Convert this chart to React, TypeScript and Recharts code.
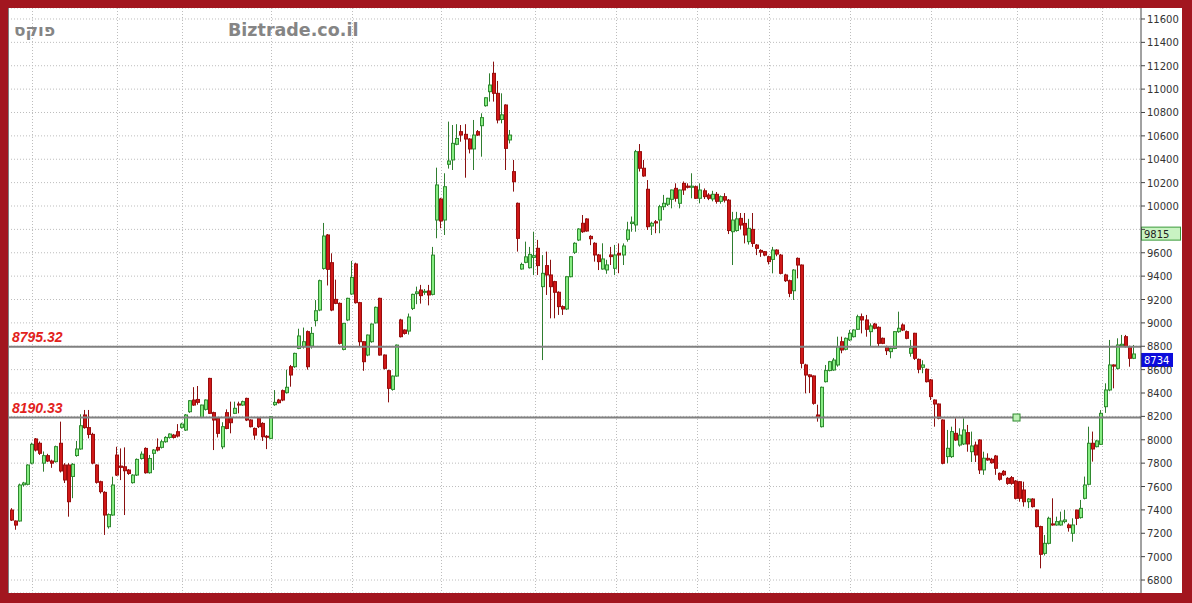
import React from "react";
import { ComposedChart, Bar, XAxis, YAxis, CartesianGrid, ReferenceLine, ReferenceDot } from "recharts";

// daily candles (oldest first)
const opens = [
  7399, 7305, 7305, 7615, 7619, 7800, 8007, 7970, 7800, 7864,
  7818, 7813, 7970, 7784, 7784, 7686, 7865, 7921, 8212, 8104,
  8046, 7784, 7641, 7550, 7256, 7356, 7869, 7775, 7769, 7741,
  7633, 7698, 7840, 7926, 7718, 7884, 7935, 7935, 7983, 8020,
  8040, 8069, 8106, 8083, 8240, 8340, 8345, 8191, 8260, 8525,
  8232, 8183, 7940, 8232, 8183, 8226, 8306, 8297, 8354, 8169,
  8097, 8183, 8140, 8030, 8012, 8300, 8340, 8420, 8403, 8625,
  8625, 8782, 8796, 8925, 8802, 9019, 9110, 9466, 9752, 9515,
  9201, 9167, 8773, 9025, 9247, 9504, 9173, 8839, 8725, 8839,
  9000, 9210, 8725, 8591, 8431, 8545, 9025, 8939, 8930, 9124,
  9250, 9281, 9262, 9273, 9244, 9880, 10060, 9880, 10357, 10394,
  10528, 10636, 10613, 10573, 10488, 10636, 10687, 10858, 10978, 11135,
  10964, 10740, 10864, 10565, 10294, 10023, 9461, 9518, 9472, 9560,
  9638, 9310, 9490, 9410, 9353, 9262, 9139, 9119, 9395, 9604,
  9709, 9852, 9889, 9740, 9681, 9581, 9461, 9453, 9581, 9467,
  9595, 9581, 9715, 9850, 9838, 10465, 10323, 10143, 9829, 9865,
  9880, 9994, 10015, 10057, 10151, 10023, 10194, 10170, 10160, 10165,
  10066, 10130, 10094, 10060, 10100, 10040, 10080, 10050, 9780, 9790,
  9894, 9851, 9695, 9800, 9666, 9620, 9609, 9566, 9543, 9623,
  9580, 9410, 9361, 9275, 9552, 9495, 8640, 8555, 8546, 8212,
  8112, 8497, 8592, 8597, 8640, 8839, 8774, 8854, 8882, 8945,
  9053, 9025, 8925, 8990, 8962, 8868, 8797, 8754, 8782, 8925,
  8982, 8925, 8740, 8911, 8688, 8620, 8603, 8512, 8340, 8306,
  8169, 7856, 7856, 8055, 7955, 7964, 8061, 7898, 7955, 7998,
  7742, 7841, 7833, 7861, 7713, 7730, 7670, 7676, 7647, 7641,
  7570, 7470, 7493, 7399, 7257, 7028, 7114, 7280, 7271, 7271,
  7300, 7271, 7200, 7399, 7334, 7499, 7619, 7970, 7941, 7961,
  8283, 8426, 8640, 8611, 8805, 8882, 8797, 8697,
];
const highs = [
  7415, 7310, 7625, 7640, 7790, 7975, 8015, 7985, 7900, 7880,
  7830, 7950, 8155, 7800, 7800, 7800, 7990, 8218, 8255, 8255,
  8060, 7790, 7650, 7560, 7370, 7684, 7940, 7926, 7935, 7750,
  7705, 7840, 7900, 7935, 7870, 7920, 8012, 8000, 8030, 8055,
  8050, 8134, 8145, 8220, 8340, 8450, 8460, 8300, 8345, 8530,
  8240, 8190, 8150, 8260, 8326, 8326, 8326, 8335, 8360, 8175,
  8105, 8190, 8150, 8040, 8200, 8425, 8350, 8430, 8600, 8640,
  8745, 8950, 8960, 8935, 8965, 9195, 9370, 9855, 9760, 9595,
  9370, 9175, 9000, 9215, 9530, 9515, 9180, 8845, 8900, 8995,
  9140, 9215, 8730, 8600, 8550, 8815, 9035, 8945, 9080, 9250,
  9310, 9325, 9290, 9325, 9650, 10328, 10070, 10280, 10722, 10693,
  10700, 10693, 10700, 10580, 10736, 10650, 10793, 10930, 11135, 11235,
  11070, 10964, 10870, 10650, 10394, 10030, 9515, 9695, 9650, 9780,
  9710, 9580, 9610, 9540, 9360, 9270, 9150, 9400, 9570, 9690,
  9810, 9923, 9895, 9750, 9690, 9590, 9681, 9540, 9650, 9667,
  9680, 9680, 9865, 9910, 10480, 10530, 10394, 10222, 9865, 9880,
  10010, 10095, 10070, 10140, 10194, 10140, 10210, 10194, 10280, 10175,
  10194, 10150, 10110, 10130, 10120, 10090, 10110, 10060, 9950, 9950,
  9940, 9940, 9890, 9940, 9675, 9630, 9615, 9575, 9650, 9630,
  9590, 9420, 9370, 9460, 9560, 9500, 8650, 8560, 8550, 8300,
  8455, 8640, 8675, 8700, 8882, 8882, 8875, 8940, 8945, 9070,
  9080, 9068, 8996, 9000, 8970, 8875, 8805, 8790, 8930, 9096,
  8996, 8935, 8854, 8915, 8695, 8680, 8610, 8520, 8345, 8310,
  8175, 8084, 8112, 8184, 8098, 8184, 8127, 8070, 7984, 8005,
  7898, 7884, 7845, 7870, 7720, 7740, 7680, 7690, 7655, 7645,
  7641, 7500, 7500, 7405, 7265, 7185, 7342, 7499, 7342, 7385,
  7400, 7285, 7328, 7400, 7485, 7685, 8112, 8070, 8000, 8254,
  8483, 8854, 8645, 8868, 8897, 8897, 8805, 8811,
];
const lows = [
  7305, 7230, 7300, 7600, 7610, 7790, 7900, 7870, 7727, 7810,
  7760, 7805, 7720, 7630, 7342, 7500, 7855, 7915, 8095, 8012,
  7790, 7625, 7540, 7186, 7240, 7350, 7690, 7655, 7356, 7700,
  7625, 7690, 7830, 7710, 7710, 7741, 7900, 7925, 7975, 8010,
  8010, 8020, 8095, 8075, 8230, 8290, 8300, 8185, 8250, 8220,
  7912, 8020, 7920, 8090, 8055, 8220, 8226, 8290, 8160, 8105,
  8000, 8100, 7990, 7920, 8005, 8290, 8310, 8330, 8395, 8454,
  8615, 8775, 8780, 8600, 8780, 8970, 9100, 9455, 9320, 9100,
  9160, 8815, 8765, 9015, 9240, 9165, 8796, 8590, 8715, 8830,
  8995, 8720, 8600, 8320, 8420, 8540, 8875, 8900, 8900, 9110,
  9160, 9165, 9240, 9150, 9235, 9724, 9810, 9752, 10320, 10308,
  10520, 10550, 10242, 10450, 10308, 10600, 10422, 10850, 10893, 10893,
  10707, 10707, 10308, 10535, 10123, 9610, 9455, 9510, 9465, 9410,
  9410, 8682, 9239, 9039, 9039, 9068, 9068, 9110, 9390, 9590,
  9700, 9770, 9780, 9665, 9524, 9452, 9455, 9420, 9495, 9410,
  9425, 9495, 9695, 9780, 9780, 10295, 10250, 9795, 9752, 9767,
  9767, 9965, 10000, 9980, 10037, 9980, 10095, 10150, 10066, 10060,
  10023, 10060, 10050, 10040, 10020, 10020, 10030, 9760, 9495, 9780,
  9800, 9680, 9670, 9650, 9580, 9565, 9570, 9500, 9424, 9570,
  9415, 9350, 9220, 9196, 9381, 8611, 8397, 8400, 8300, 8155,
  8105, 8490, 8585, 8590, 8625, 8740, 8765, 8845, 8875, 8940,
  8910, 8882, 8797, 8945, 8797, 8818, 8725, 8697, 8775, 8915,
  8930, 8860, 8711, 8683, 8569, 8569, 8490, 8340, 8112, 8175,
  7790, 7799, 7845, 7990, 7941, 7955, 7898, 7810, 7810, 7707,
  7700, 7820, 7795, 7700, 7650, 7690, 7615, 7615, 7490, 7470,
  7428, 7415, 7420, 7250, 6900, 7010, 7105, 7265, 7265, 7265,
  7285, 7214, 7128, 7270, 7325, 7490, 7610, 7813, 7935, 7955,
  8230, 8415, 8440, 8600, 8800, 8790, 8625, 8690,
];
const closes = [
  7313, 7270, 7613, 7630, 7784, 7961, 7912, 7884, 7864, 7818,
  7800, 7941, 7733, 7656, 7470, 7790, 7921, 8120, 8104, 8046,
  7800, 7636, 7556, 7356, 7360, 7613, 7698, 7764, 7735, 7712,
  7698, 7832, 7877, 7718, 7840, 7912, 7912, 7983, 8020, 8049,
  8020, 8032, 8134, 8212, 8334, 8297, 8320, 8297, 8340, 8226,
  8169, 8055, 8112, 8097, 8146, 8269, 8297, 8326, 8169, 8112,
  8040, 8112, 8026, 8026, 8197, 8320, 8317, 8340, 8449, 8554,
  8739, 8888, 8839, 8625, 8910, 9104, 9361, 9743, 9458, 9110,
  9167, 8825, 8996, 9210, 9389, 9173, 8839, 8668, 8896, 8990,
  9133, 8725, 8611, 8440, 8545, 8810, 8882, 8910, 9050, 9244,
  9265, 9233, 9270, 9239, 9580, 10180, 9872, 10165, 10385, 10536,
  10578, 10607, 10573, 10488, 10607, 10607, 10756, 10926, 11035, 10964,
  10736, 10780, 10493, 10607, 10208, 9723, 9500, 9565, 9586, 9575,
  9490, 9424, 9410, 9310, 9262, 9139, 9119, 9395, 9566, 9681,
  9803, 9780, 9786, 9720, 9581, 9524, 9547, 9496, 9567, 9581,
  9581, 9658, 9795, 9862, 10465, 10323, 10257, 9823, 9852, 9855,
  9994, 10023, 10066, 10137, 10066, 10137, 10137, 10160, 10170, 10066,
  10137, 10080, 10066, 10100, 10040, 10080, 10050, 9790, 9880, 9890,
  9837, 9752, 9809, 9680, 9638, 9605, 9580, 9524, 9623, 9589,
  9424, 9361, 9253, 9452, 9495, 8654, 8554, 8540, 8312, 8190,
  8449, 8592, 8668, 8682, 8797, 8768, 8868, 8911, 8939, 9053,
  9025, 8945, 8974, 8954, 8825, 8825, 8762, 8782, 8925, 8954,
  8939, 8868, 8783, 8697, 8603, 8640, 8497, 8369, 8306, 8184,
  7799, 7927, 8070, 7998, 8040, 8084, 7964, 7947, 7870, 7742,
  7842, 7827, 7804, 7756, 7662, 7700, 7627, 7627, 7499, 7499,
  7470, 7493, 7428, 7257, 7020, 7114, 7328, 7271, 7300, 7305,
  7314, 7248, 7271, 7328, 7413, 7613, 7970, 7921, 7990, 8226,
  8426, 8640, 8630, 8811, 8817, 8797, 8697, 8734,
];

const priceTicks = [
  6800, 7000, 7200, 7400, 7600, 7800, 8000, 8200, 8400, 8600, 8800, 9000, 9200,
  9400, 9600, 9800, 10000, 10200, 10400, 10600, 10800, 11000, 11200, 11400, 11600,
];
// first trading day of each month (candle index)
const monthTicks = [5, 26, 42, 64, 84, 106, 129, 149, 169, 187, 207, 227, 248, 269];
const levels = [8795.32, 8190.33];
const avgValue = 9815;
const markerIndex = 248;

const PAD_L = 2;
const PAD_R = 5;

const data = opens.map((o, i) => ({ idx: i, o, h: highs[i], l: lows[i], c: closes[i] }));
const lastClose = closes[closes.length - 1];

const Candle = (props: any) => {
  const { x, y, width, height, payload } = props;
  const { o, h, l, c } = payload;
  const up = c >= o;
  const top = height < 0 ? y + height : y;
  const hh = Math.abs(height);
  const k = h === l ? 0 : hh / (h - l);
  const yO = top + (h - o) * k;
  const yC = top + (h - c) * k;
  const bodyTop = Math.min(yO, yC);
  const bodyH = Math.max(Math.abs(yO - yC), 1);
  const left = Math.round(x + width / 2) - 2;
  const wick = up ? "#2f7d2f" : "#8a1010";
  return (
    <g>
      <line x1={left + 1.5} x2={left + 1.5} y1={top} y2={top + hh} stroke={wick} strokeWidth={1} />
      <rect
        x={left + 0.5}
        y={bodyTop}
        width={3}
        height={bodyH}
        fill={up ? "#86ec82" : "#d01818"}
        stroke={up ? "#2f8a2f" : "#9a0d0d"}
        strokeWidth={1}
      />
    </g>
  );
};

// price label on the right axis; the one hidden under the average badge is skipped
const PriceTick = (p: any) => {
  const v = p.payload.value;
  if (Math.abs(v - avgValue) < 100) return null;
  return (
    <text x={p.x} y={p.y} dy={4} fontSize={10} fill="#333" fontFamily="DejaVu Sans, sans-serif">
      {v}
    </text>
  );
};

const levelLabel = (text: string) => (p: any) => (
  <text
    x={p.viewBox.x + 4}
    y={p.viewBox.y - 5}
    fill="#e2221c"
    fontSize={14}
    fontWeight="bold"
    fontStyle="italic"
    fontFamily="Liberation Sans, Arial, sans-serif"
  >
    {text}
  </text>
);

const badge = (text: string, bg: string, border: string, color: string, w: number) => (p: any) => {
  const bx = p.viewBox.x + p.viewBox.width;
  const by = p.viewBox.y - 1;
  return (
    <g>
      <rect x={bx + 0.5} y={by + 0.5} width={w} height={13} fill={bg} stroke={border} />
      <text x={bx + 3} y={by + 11} fontSize={10} fill={color} fontFamily="DejaVu Sans, sans-serif">
        {text}
      </text>
    </g>
  );
};

// vertical month lines, placed in the centre of each month's first candle band
const monthLines = (args: any) => {
  const off = args && args.offset;
  if (!off) return [];
  const band = (off.width - PAD_L - PAD_R) / data.length;
  return monthTicks.map((t) => Math.round(off.left + PAD_L + (t + 0.5) * band) + 0.5);
};

export default function App() {
  return (
    <div style={{ position: "absolute", left: 0, top: 0, width: 1192, height: 603, background: "#a2161f" }}>
      <div style={{ position: "absolute", left: 8, top: 8, width: 1174, height: 585, background: "#fff" }}>
        <ComposedChart width={1174} height={585} data={data} margin={{ top: 0, right: 0, bottom: 0, left: 0 }}>
          <CartesianGrid stroke="#bdbdbd" strokeDasharray="1 2" verticalCoordinatesGenerator={monthLines} />
          <XAxis
            dataKey="idx"
            type="category"
            ticks={monthTicks}
            interval={0}
            tick={false}
            axisLine={false}
            tickLine={{ stroke: "#555" }}
            tickSize={4}
            mirror
            height={0}
            padding={{ left: PAD_L, right: PAD_R }}
          />
          <YAxis
            orientation="right"
            width={41}
            domain={[6689, 11694]}
            allowDataOverflow
            ticks={priceTicks}
            interval={0}
            tickSize={4}
            axisLine={{ stroke: "#444" }}
            tickLine={{ stroke: "#444" }}
            tick={PriceTick}
          />
          {levels.map((v) => (
            <ReferenceLine key={v} y={v} stroke="#808080" strokeWidth={2} label={levelLabel(v.toFixed(2))} />
          ))}
          <ReferenceLine y={avgValue} stroke="none" label={badge(String(avgValue), "#c9f3c3", "#3a9a3a", "#222", 39)} />
          <ReferenceLine y={lastClose} stroke="none" label={badge(String(lastClose), "#0c0cdc", "#0c0cdc", "#fff", 31)} />
          <Bar
            dataKey={(d: any) => [d.l, d.h]}
            shape={Candle}
            isAnimationActive={false}
          />
          <ReferenceDot
            x={markerIndex}
            y={levels[1]}
            shape={(p: any) => (
              <rect x={p.cx - 3.5} y={p.cy - 3.5} width={7} height={7} fill="#bdf0b5" stroke="#2f8a2f" />
            )}
          />
        </ComposedChart>
      </div>
      <div style={{ position: "absolute", left: 8, top: 8, width: 1, height: 585, background: "#808080" }} />
      <div
        style={{
          position: "absolute", left: 14, top: 19, fontFamily: "DejaVu Sans, sans-serif",
          fontWeight: "bold", fontSize: 17, color: "#858585", lineHeight: "22px",
        }}
      >
        פוקס
      </div>
      <div
        style={{
          position: "absolute", left: 228, top: 19, fontFamily: "DejaVu Sans, sans-serif",
          fontWeight: "bold", fontSize: 17.5, color: "#858585", lineHeight: "22px",
        }}
      >
        Biztrade.co.il
      </div>
    </div>
  );
}
